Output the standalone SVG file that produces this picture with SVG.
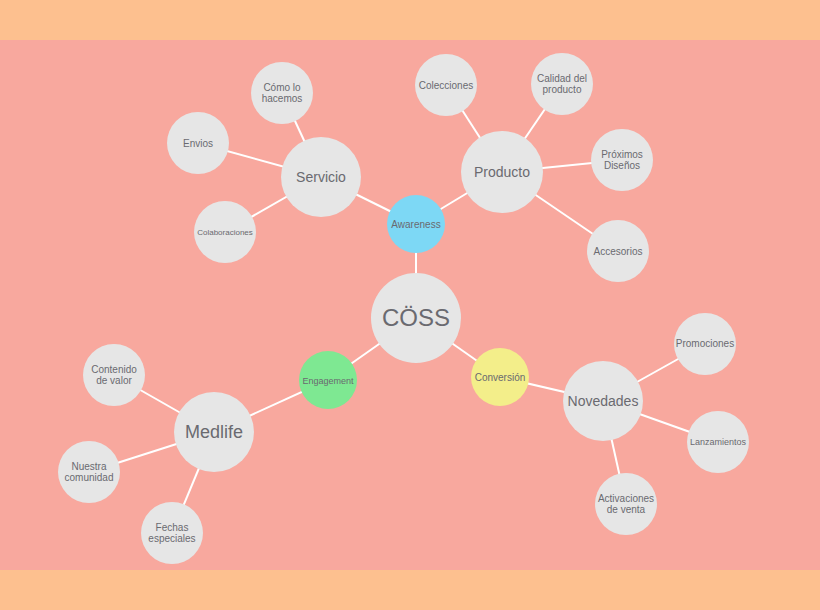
<svg xmlns="http://www.w3.org/2000/svg" width="820" height="610" viewBox="0 0 820 610">
<style>
.n{fill:#E6E6E6}
text{font-family:"Liberation Sans",Arial,sans-serif;fill:#6A6A70;text-anchor:middle}
.s{font-size:10px}.m{font-size:14px}.l{font-size:18px}
#edges line{stroke:#fff;stroke-width:2}
</style>
<rect width="820" height="610" fill="#FDC08F"/>
<rect y="40" width="820" height="530" fill="#F8A89E"/>
<g id="edges">
<line x1="416" y1="318" x2="416" y2="224"/><line x1="416" y1="318" x2="328" y2="380"/><line x1="416" y1="318" x2="500" y2="377"/>
<line x1="416" y1="224" x2="321" y2="177"/><line x1="416" y1="224" x2="502" y2="172"/>
<line x1="328" y1="380" x2="214" y2="432"/><line x1="500" y1="377" x2="603" y2="401"/>
<line x1="321" y1="177" x2="282" y2="93"/><line x1="321" y1="177" x2="198" y2="143"/><line x1="321" y1="177" x2="225" y2="232"/>
<line x1="502" y1="172" x2="446" y2="85"/><line x1="502" y1="172" x2="562" y2="84"/><line x1="502" y1="172" x2="622" y2="160"/><line x1="502" y1="172" x2="618" y2="251"/>
<line x1="214" y1="432" x2="114" y2="375"/><line x1="214" y1="432" x2="89" y2="472"/><line x1="214" y1="432" x2="172" y2="533"/>
<line x1="603" y1="401" x2="705" y2="344"/><line x1="603" y1="401" x2="718" y2="442"/><line x1="603" y1="401" x2="626" y2="504"/>
</g>
<g id="coss"><circle class="n" cx="416" cy="318" r="45"/><text class="l" x="416" y="326" style="font-size:24px">CÖSS</text></g>
<g id="awareness"><circle cx="416" cy="224" r="29" fill="#7DD8F5"/><text class="s" x="416" y="228">Awareness</text></g>
<g id="engagement"><circle cx="328" cy="380" r="29" fill="#7EE892"/><text class="s" x="328" y="384" style="font-size:9px">Engagement</text></g>
<g id="conversion"><circle cx="500" cy="377" r="29" fill="#F3EE8A"/><text class="s" x="500" y="381">Conversión</text></g>
<g id="servicio"><circle class="n" cx="321" cy="177" r="40"/><text class="m" x="321" y="182">Servicio</text></g>
<g id="producto"><circle class="n" cx="502" cy="172" r="41"/><text class="m" x="502" y="177">Producto</text></g>
<g id="medlife"><circle class="n" cx="214" cy="432" r="40"/><text class="l" x="214" y="438">Medlife</text></g>
<g id="novedades"><circle class="n" cx="603" cy="401" r="40"/><text class="m" x="603" y="406">Novedades</text></g>
<g id="como"><circle class="n" cx="282" cy="93" r="31"/><text class="s" x="282" y="91">Cómo lo</text><text class="s" x="282" y="102">hacemos</text></g>
<g id="envios"><circle class="n" cx="198" cy="143" r="31"/><text class="s" x="198" y="147">Envios</text></g>
<g id="colab"><circle class="n" cx="225" cy="232" r="31"/><text x="225" y="235" style="font-size:8px">Colaboraciones</text></g>
<g id="colecciones"><circle class="n" cx="446" cy="85" r="31"/><text class="s" x="446" y="89">Colecciones</text></g>
<g id="calidad"><circle class="n" cx="562" cy="84" r="31"/><text class="s" x="562" y="82">Calidad del</text><text class="s" x="562" y="93">producto</text></g>
<g id="proximos"><circle class="n" cx="622" cy="160" r="31"/><text class="s" x="622" y="158">Próximos</text><text class="s" x="622" y="169">Diseños</text></g>
<g id="accesorios"><circle class="n" cx="618" cy="251" r="31"/><text class="s" x="618" y="255">Accesorios</text></g>
<g id="contenido"><circle class="n" cx="114" cy="375" r="31"/><text class="s" x="114" y="373">Contenido</text><text class="s" x="114" y="384">de valor</text></g>
<g id="comunidad"><circle class="n" cx="89" cy="472" r="31"/><text class="s" x="89" y="470">Nuestra</text><text class="s" x="89" y="481">comunidad</text></g>
<g id="fechas"><circle class="n" cx="172" cy="533" r="31"/><text class="s" x="172" y="531">Fechas</text><text class="s" x="172" y="542">especiales</text></g>
<g id="promociones"><circle class="n" cx="705" cy="344" r="31"/><text class="s" x="705" y="347">Promociones</text></g>
<g id="lanzamientos"><circle class="n" cx="718" cy="442" r="31"/><text class="s" x="718" y="445" style="font-size:9px">Lanzamientos</text></g>
<g id="activaciones"><circle class="n" cx="626" cy="504" r="31"/><text class="s" x="626" y="502">Activaciones</text><text class="s" x="626" y="513">de venta</text></g>
</svg>
